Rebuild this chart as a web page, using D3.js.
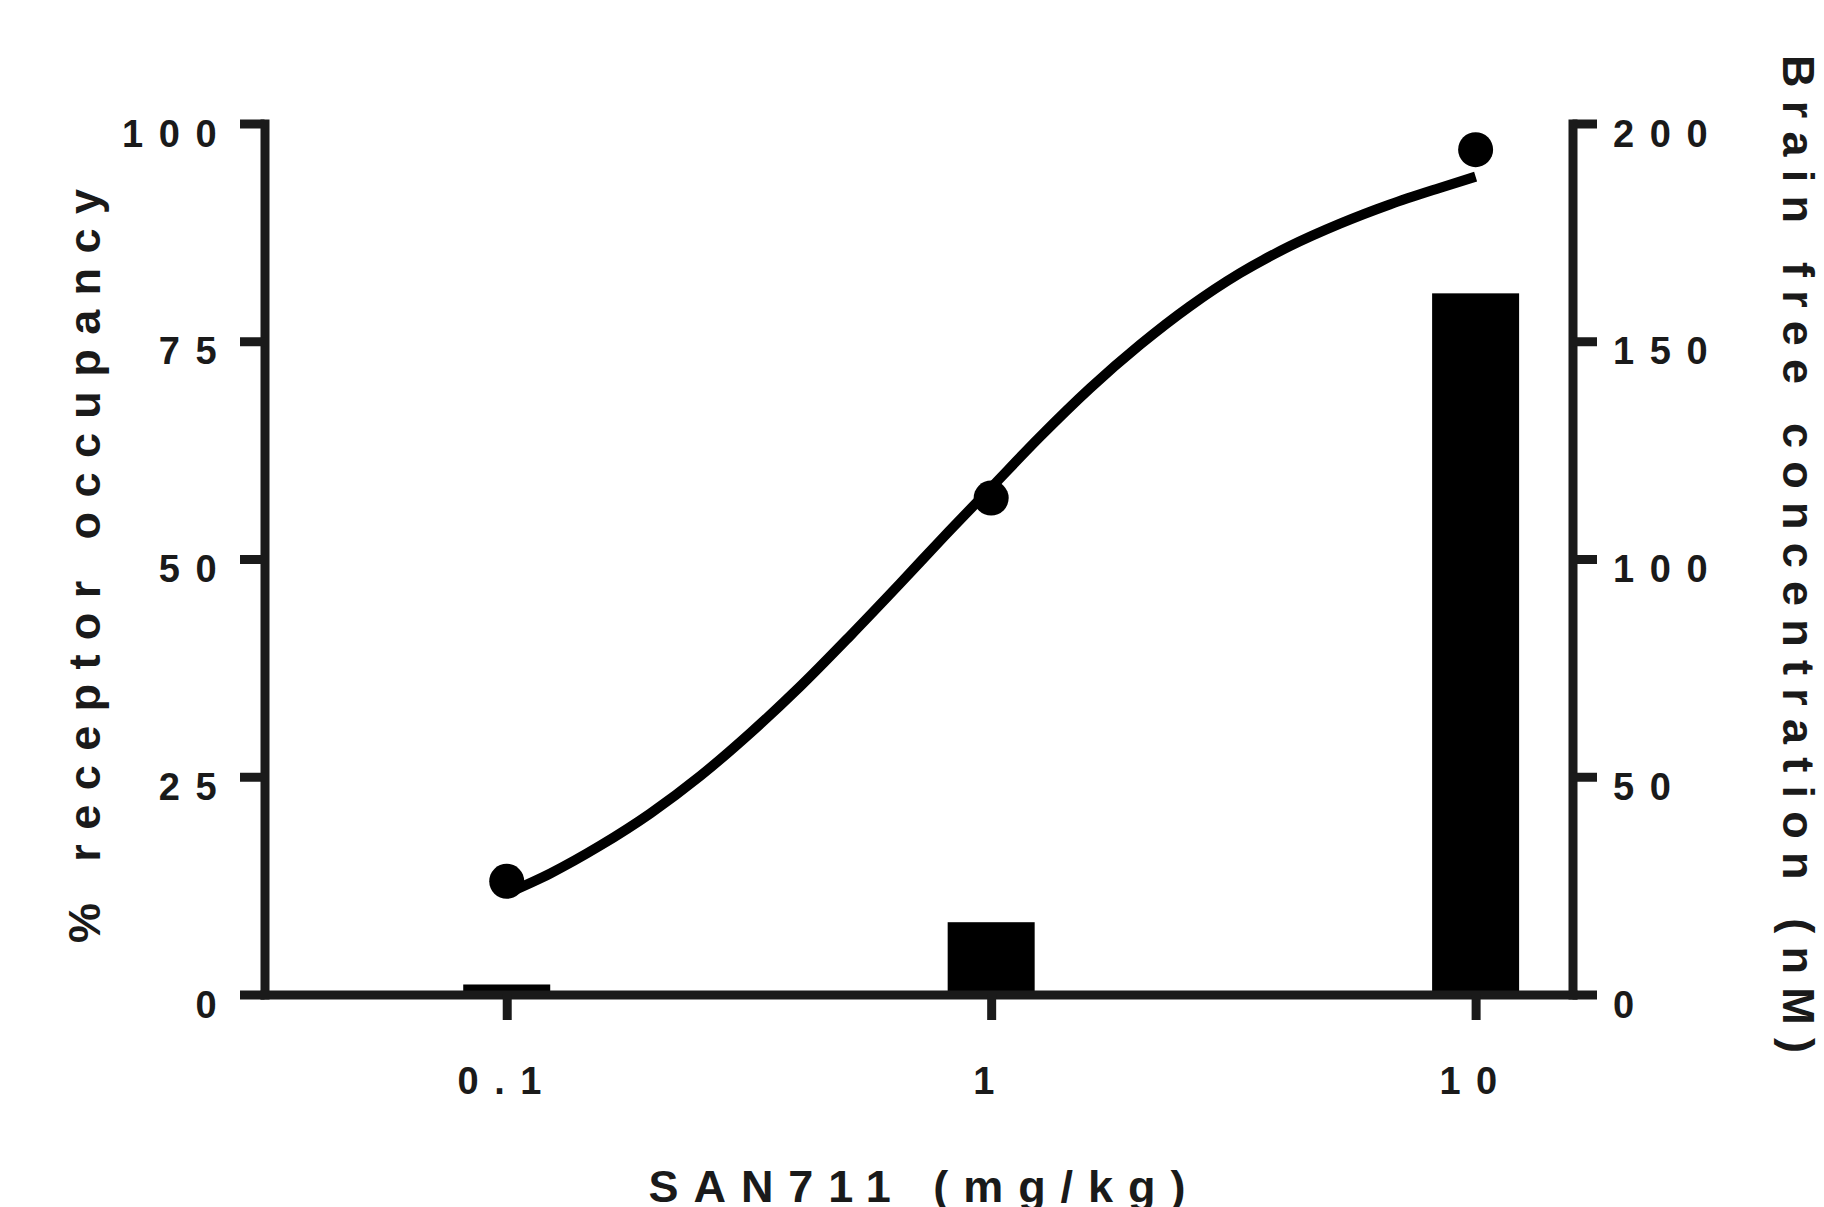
<!DOCTYPE html>
<html lang="en">
<head>
<meta charset="UTF-8">
<title>SAN711 receptor occupancy</title>
<script src="https://cdn.jsdelivr.net/npm/d3@7"></script>
<style>
body { margin: 0; background: #fff; }
svg { display: block; }
.axis path, .axis line { stroke: #1a1a1a; stroke-width: 9px; }
.axis .domain { stroke-linecap: square; }
.axis text {
	font-family: "Liberation Sans", Arial, sans-serif;
	font-weight: bold;
	font-size: 38px;
	letter-spacing: 15.6px;
	fill: #1a1a1a;
}
.title {
	font-family: "Liberation Sans", Arial, sans-serif;
	font-weight: bold;
	font-size: 45px;
	fill: #1a1a1a;
}
</style>
</head>
<body>
<script>
// measured values
var doses = [0.1, 1, 10];
var occupancy = [13, 57, 97];          // % receptor occupancy (left axis)
var brainConc = [2.3, 16.6, 161];      // brain free concentration nM (right axis)

// fitted curve
var fitDose = [0.1, 0.123, 0.156, 0.198, 0.251, 0.318, 0.404, 0.512, 0.649, 0.8, 1,
	1.26, 1.6, 2.03, 2.57, 3.26, 4.13, 5.25, 6.65, 8.43, 10];
var fitOcc = [11.6, 13.9, 17.1, 20.8, 25.1, 30.0, 35.4, 41.2, 47.2, 52.6, 58.2,
	64.0, 69.6, 74.6, 79.0, 82.8, 85.9, 88.5, 90.7, 92.6, 93.9];

var xTicks = [0.1, 1, 10];
var xTickLabels = ['0.1', '1', '10'];
var leftTicks = [0, 25, 50, 75, 100];
var rightTicks = [0, 50, 100, 150, 200];

var width = 1824, height = 1207;
var plot = {left: 264.5, right: 1572.5, top: 123.5, bottom: 994.5};
var barWidth = 87;

var svg = d3.select('body').append('svg')
	.attr('width', width)
	.attr('height', height);

var x = d3.scaleLog()
	.domain([Math.pow(10, -1.5), Math.pow(10, 1.2)])
	.range([plot.left, plot.right]);

var yLeft = d3.scaleLinear()
	.domain([0, 100])
	.range([plot.bottom, plot.top]);

var yRight = d3.scaleLinear()
	.domain([0, 200])
	.range([plot.bottom, plot.top]);

// bars (right axis)
svg.selectAll('.bar')
	.data(doses)
	.enter()
	.append('rect')
	.attr('class', 'bar')
	.attr('x', function (d) { return x(d) - barWidth / 2; })
	.attr('width', barWidth)
	.attr('y', function (d, i) { return yRight(brainConc[i]); })
	.attr('height', function (d, i) { return plot.bottom - yRight(brainConc[i]); })
	.style('fill', '#000');

// axes
var gx = svg.append('g')
	.attr('class', 'axis')
	.attr('transform', 'translate(0,' + plot.bottom + ')')
	.call(d3.axisBottom(x)
		.tickValues(xTicks)
		.tickFormat(function (d, i) { return xTickLabels[i]; })
		.tickSizeInner(25.5)
		.tickSizeOuter(0));
gx.selectAll('text').attr('dy', null).attr('y', 99.5);

var gl = svg.append('g')
	.attr('class', 'axis')
	.attr('transform', 'translate(' + plot.left + ',0)')
	.call(d3.axisLeft(yLeft)
		.tickValues(leftTicks)
		.tickSizeInner(24.5)
		.tickSizeOuter(0));
gl.selectAll('text').attr('dy', null).attr('x', -32.3).attr('y', 22.7);

var gr = svg.append('g')
	.attr('class', 'axis')
	.attr('transform', 'translate(' + plot.right + ',0)')
	.call(d3.axisRight(yRight)
		.tickValues(rightTicks)
		.tickSizeInner(24.5)
		.tickSizeOuter(0));
gr.selectAll('text').attr('dy', null).attr('x', 40.5).attr('y', 22.7);

// fit curve
var line = d3.line()
	.x(function (d) { return x(d); })
	.y(function (d, i) { return yLeft(fitOcc[i]); })
	.curve(d3.curveMonotoneX);

svg.append('path')
	.attr('d', line(fitDose))
	.style('fill', 'none')
	.style('stroke', '#000')
	.style('stroke-width', 10);

// points
svg.selectAll('.dot')
	.data(doses)
	.enter()
	.append('circle')
	.attr('class', 'dot')
	.attr('cx', function (d) { return x(d); })
	.attr('cy', function (d, i) { return yLeft(occupancy[i]); })
	.attr('r', 17.5)
	.style('fill', '#000');

// titles
svg.append('text')
	.attr('class', 'title')
	.attr('x', 917)
	.attr('y', 1202)
	.attr('text-anchor', 'middle')
	.attr('textLength', 537)
	.attr('lengthAdjust', 'spacing')
	.text('SAN711 (mg/kg)');

svg.append('text')
	.attr('class', 'title')
	.attr('transform', 'translate(100,566) rotate(-90)')
	.attr('text-anchor', 'middle')
	.attr('textLength', 754)
	.attr('lengthAdjust', 'spacing')
	.text('% receptor occupancy');

svg.append('text')
	.attr('class', 'title')
	.attr('transform', 'translate(1783,554) rotate(90)')
	.attr('text-anchor', 'middle')
	.attr('textLength', 998)
	.attr('lengthAdjust', 'spacing')
	.text('Brain free concentration (nM)');
</script>
</body>
</html>
